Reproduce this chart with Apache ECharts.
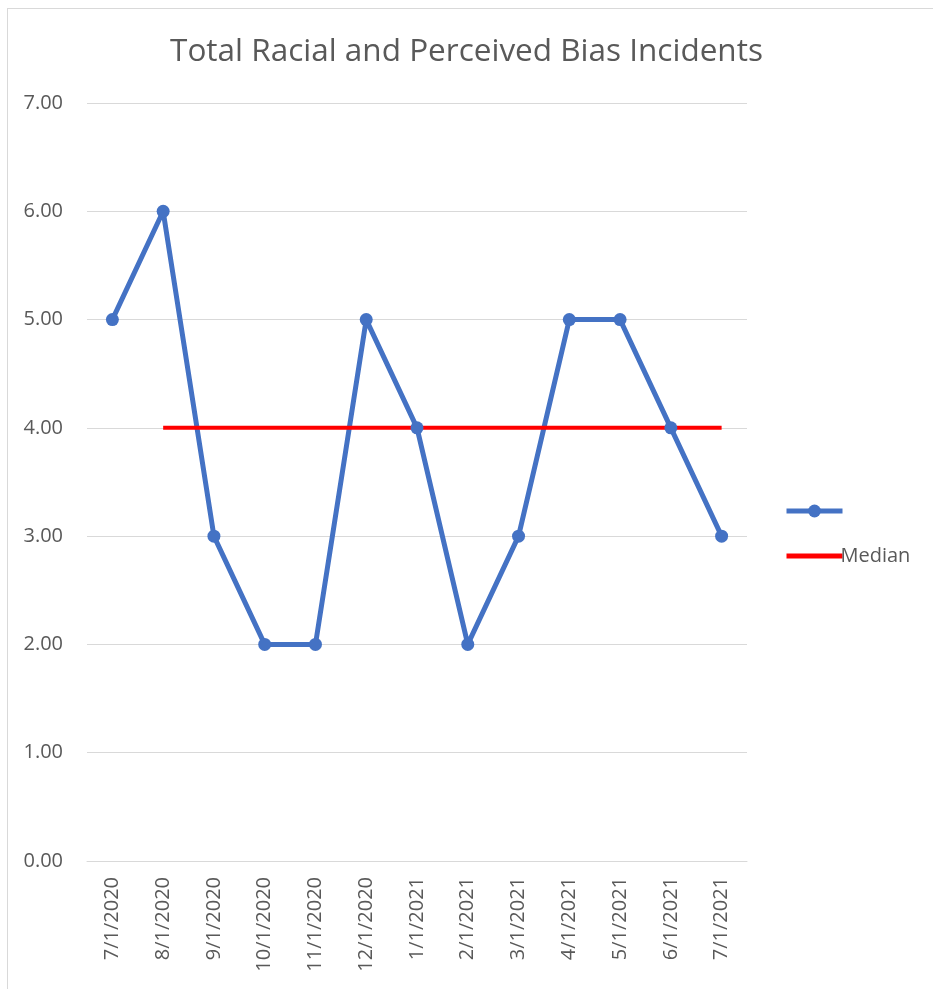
<!DOCTYPE html>
<html>
<head>
<meta charset="utf-8">
<script src="https://cdn.jsdelivr.net/npm/echarts@6/dist/echarts.min.js"></script>
<style>
    html, body { margin: 0; padding: 0; background: #fff; }
    #frame { position: absolute; left: 7px; top: 8px; width: 1000px; height: 1000px; border: 1px solid #d9d9d9; }
    #chart { position: absolute; left: 0; top: 0; width: 933px; height: 989px; }
</style>
</head>
<body>
<div id="frame"></div>
<div id="chart"></div>
<script>
const months = ['7/1/2020', '8/1/2020', '9/1/2020', '10/1/2020', '11/1/2020', '12/1/2020',
    '1/1/2021', '2/1/2021', '3/1/2021', '4/1/2021', '5/1/2021', '6/1/2021', '7/1/2021']
const incidents = [5, 6, 3, 2, 2, 5, 4, 2, 3, 5, 5, 4, 3]
const median = [null, 4, 4, 4, 4, 4, 4, 4, 4, 4, 4, 4, 4]

const chart = echarts.init(document.getElementById('chart'))

chart.setOption({
    title: {
        text: 'Total Racial and Perceived Bias Incidents',
        left: 'center',
        top: 31,
        textStyle: {
            fontFamily: 'Open Sans',
            fontSize: 31.5,
            fontWeight: 'normal',
            color: '#595959'
        }
    },
    legend: {
        orient: 'vertical',
        left: 779,
        top: 496,
        itemWidth: 56,
        itemHeight: 16,
        itemGap: 25,
        textStyle: {
            fontFamily: 'Open Sans',
            fontSize: 20,
            lineHeight: 16,
            color: '#595959',
            padding: [0, 0, 0, -7]
        },
        data: [
            { name: ' ', lineStyle: { width: 5 } },
            { name: 'Median', itemStyle: { opacity: 0 }, lineStyle: { width: 5 } }
        ]
    },
    grid: {
        left: 87,
        right: 186,
        top: 103,
        bottom: 128
    },
    xAxis: {
        type: 'category',
        boundaryGap: true,
        data: months,
        axisTick: { show: false },
        axisLine: {
            lineStyle: { color: '#d9d9d9' }
        },
        axisLabel: {
            rotate: 90,
            margin: 16,
            fontFamily: 'Open Sans',
            fontSize: 20,
            color: '#595959'
        }
    },
    yAxis: {
        type: 'value',
        min: 0,
        max: 7,
        interval: 1,
        axisLine: { show: false },
        axisTick: { show: false },
        axisLabel: {
            margin: 24,
            fontFamily: 'Open Sans',
            fontSize: 20,
            color: '#595959',
            formatter: function (v) {
                return v.toFixed(2)
            }
        },
        splitLine: {
            lineStyle: { color: '#d9d9d9', width: 1 }
        }
    },
    series: [{
        name: ' ',
        type: 'line',
        symbol: 'circle',
        symbolSize: 13,
        showSymbol: true,
        lineStyle: {
            width: 5,
            color: '#4472c4'
        },
        itemStyle: {
            color: '#4472c4'
        },
        data: incidents
    }, {
        name: 'Median',
        type: 'line',
        symbol: 'none',
        lineStyle: {
            width: 4,
            color: '#ff0000'
        },
        itemStyle: {
            color: '#ff0000'
        },
        data: median
    }]
})
</script>
</body>
</html>
